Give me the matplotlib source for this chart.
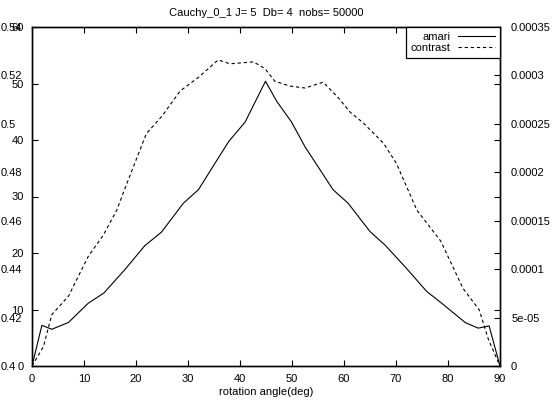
import matplotlib
matplotlib.use("Agg")
import matplotlib.pyplot as plt
import numpy as np

plt.rcParams['font.family'] = ['Liberation Sans', 'DejaVu Sans']
plt.rcParams['font.size'] = 8

# === DATOS ===
title = "Cauchy_0_1 J= 5  Db= 4  nobs= 50000"

angles_amari = [0, 1.9, 3.8, 7.0, 10.8, 13.8, 17.8, 21.7, 24.9, 29.1, 32.0, 37.8,
                41.0, 44.9, 47.1, 49.9, 52.5, 57.9, 60.8, 65.0, 67.9, 72.0, 75.9,
                78.8, 83.3, 85.8, 87.9, 90.0]
amari = [0, 7.2, 6.5, 7.7, 11.1, 12.9, 17.0, 21.3, 23.7, 28.8, 31.2, 39.7,
         43.2, 50.4, 46.8, 43.2, 38.8, 31.2, 28.8, 23.8, 21.4, 17.3, 13.2,
         11.1, 7.7, 6.7, 7.1, 0]

angles_contrast = [0, 2.2, 3.8, 7.0, 10.8, 13.7, 16.3, 18.5, 22.0, 25.0, 28.5,
                   32.0, 35.8, 38.1, 42.6, 44.8, 46.7, 49.6, 52.5, 56.0, 58.9,
                   61.2, 63.7, 67.6, 70.1, 74.0, 78.6, 82.9, 86.0, 87.8, 90.0]
contrast = [0, 2.0e-5, 5.3e-5, 7.2e-5, 1.13e-4, 1.35e-4, 1.61e-4, 1.92e-4,
            2.40e-4, 2.58e-4, 2.84e-4, 2.98e-4, 3.16e-4, 3.12e-4, 3.14e-4,
            3.07e-4, 2.94e-4, 2.89e-4, 2.87e-4, 2.93e-4, 2.77e-4, 2.62e-4,
            2.51e-4, 2.30e-4, 2.09e-4, 1.61e-4, 1.29e-4, 8.0e-5, 5.8e-5,
            2.7e-5, 0]

x_ticks = [0, 10, 20, 30, 40, 50, 60, 70, 80, 90]
y_ticks = [0, 10, 20, 30, 40, 50, 60]
y2_ticks = [0, 5e-5, 1e-4, 1.5e-4, 2e-4, 2.5e-4, 3e-4, 3.5e-4]
y3_ticks = [0.40, 0.42, 0.44, 0.46, 0.48, 0.50, 0.52, 0.54]

fig = plt.figure(figsize=(5.6, 4.05), dpi=100)
ax = fig.add_axes([32 / 560, 39 / 405, 468 / 560, 339 / 405])
ax2 = ax.twinx()
ax3 = ax.twinx()

l1, = ax.plot(angles_amari, amari, color='black', lw=0.8, label='amari')
l2, = ax2.plot(angles_contrast, contrast, color='black', lw=0.8,
               linestyle=(0, (3, 2.5)), label='contrast')

ax.set_xlim(0, 90)
ax.set_ylim(0, 60)
ax2.set_ylim(0, 0.00035)
ax3.set_ylim(0.40, 0.54)

ax.set_xticks(x_ticks)
ax.set_yticks(y_ticks)
ax2.set_yticks(y2_ticks)
ax2.set_yticklabels([f"{v:g}" for v in y2_ticks])
ax3.set_yticks(y3_ticks)
ax3.set_yticklabels([f"{v:g}" for v in y3_ticks])

ax.tick_params(direction='in', length=4, width=0.8, top=True, right=True,
               labelright=False, pad=6)
ax.tick_params(axis='x', pad=6)
ax2.tick_params(direction='in', length=4, width=0.8, pad=8)
# tercera escala a la izquierda, sin marcas
ax3.yaxis.set_ticks_position('left')
ax3.yaxis.set_label_position('left')
ax3.tick_params(axis='y', length=0, pad=22.5, left=True, labelleft=True,
                right=False, labelright=False)
for lab in ax3.get_yticklabels():
    lab.set_horizontalalignment('left')

for a in (ax, ax2, ax3):
    for s in a.spines.values():
        s.set_linewidth(0.9)

ax.set_xlabel("rotation angle(deg)", labelpad=2)
ax.set_title(title, fontsize=8, pad=8)

leg = ax3.legend(handles=[l1, l2], loc='upper right', markerfirst=False,
                 fancybox=False, borderaxespad=0, handlelength=3.3,
                 handletextpad=0.7, borderpad=0.45, labelspacing=0.05,
                 framealpha=1)
leg.get_frame().set_edgecolor('black')
leg.get_frame().set_linewidth(0.9)

fig.savefig("out.png", dpi=100)
